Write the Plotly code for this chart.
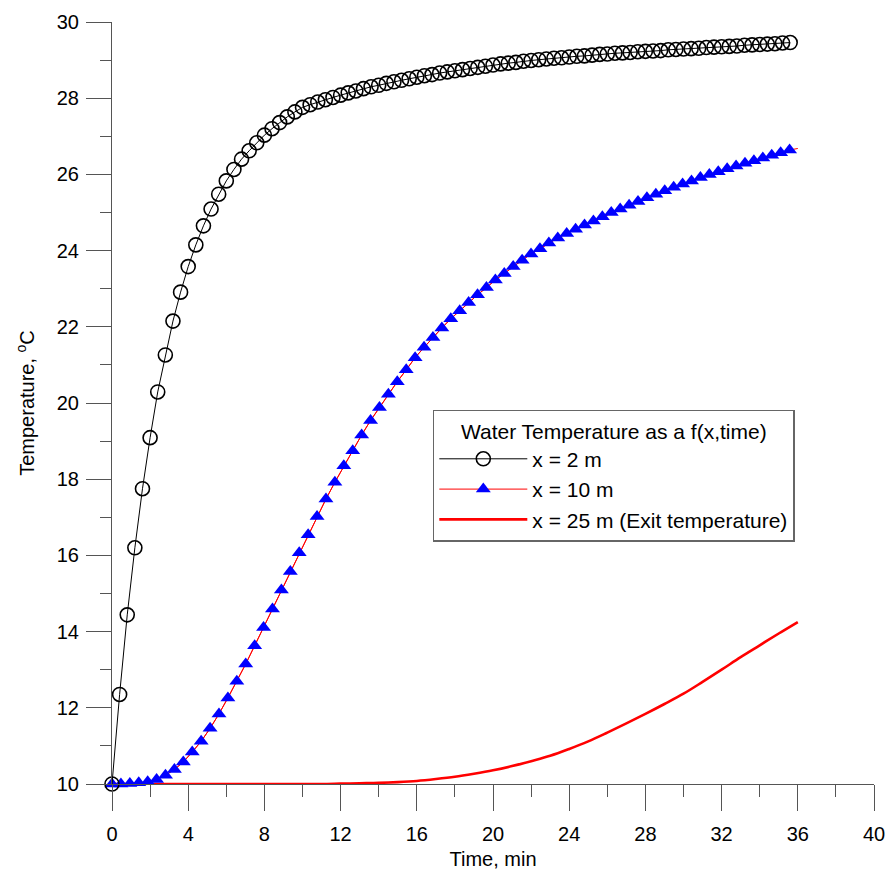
import numpy as np
import plotly.graph_objects as go

# Water temperature at x = 2 m, sampled every 0.4 min
t_x2 = np.round(np.arange(90) * 0.4, 2)
temp_x2 = [
    10.00, 12.35, 14.44, 16.20, 17.75, 19.09, 20.29, 21.26, 22.15, 22.91,
    23.58, 24.15, 24.65, 25.09, 25.48, 25.83, 26.13, 26.40, 26.62, 26.83,
    27.03, 27.20, 27.36, 27.51, 27.64, 27.76, 27.83, 27.90, 27.96, 28.02,
    28.08, 28.14, 28.19, 28.25, 28.30, 28.34, 28.39, 28.43, 28.47, 28.51,
    28.55, 28.59, 28.62, 28.66, 28.69, 28.72, 28.75, 28.78, 28.81, 28.84,
    28.87, 28.90, 28.92, 28.94, 28.97, 28.99, 29.01, 29.03, 29.05, 29.06,
    29.08, 29.10, 29.11, 29.13, 29.15, 29.16, 29.18, 29.19, 29.20, 29.22,
    29.23, 29.24, 29.25, 29.27, 29.28, 29.29, 29.30, 29.31, 29.33, 29.34,
    29.35, 29.36, 29.37, 29.39, 29.40, 29.41, 29.42, 29.43, 29.45, 29.46,
]

# Water temperature at x = 10 m, sampled every 0.468 min
t_x10 = np.round(np.arange(77) * 0.468, 3)
temp_x10 = [
    10.00, 10.00, 10.01, 10.03, 10.06, 10.12, 10.23, 10.38, 10.58, 10.84,
    11.12, 11.46, 11.84, 12.26, 12.70, 13.15, 13.63, 14.11, 14.59, 15.09,
    15.58, 16.07, 16.54, 17.02, 17.48, 17.92, 18.35, 18.75, 19.16, 19.54,
    19.88, 20.23, 20.56, 20.87, 21.19, 21.46, 21.72, 21.97, 22.21, 22.42,
    22.64, 22.84, 23.03, 23.23, 23.40, 23.58, 23.75, 23.91, 24.05, 24.20,
    24.33, 24.45, 24.56, 24.67, 24.78, 24.89, 25.00, 25.09, 25.19, 25.29,
    25.39, 25.48, 25.57, 25.66, 25.75, 25.83, 25.92, 26.00, 26.07, 26.15,
    26.22, 26.29, 26.36, 26.43, 26.50, 26.57, 26.64,
]
# the x = 10 m curve runs on to the end of the run
t_end = 36.0
temp_x10_end = 26.68

# Exit temperature at x = 25 m, every minute
t_x25 = list(range(0, 37))
temp_x25 = [
    10.00, 10.00, 10.00, 10.00, 10.00, 10.00, 10.00, 10.00, 10.00, 10.00,
    10.00, 10.00, 10.01, 10.02, 10.03, 10.05, 10.08, 10.13, 10.19, 10.27,
    10.36, 10.47, 10.60, 10.74, 10.92, 11.12, 11.35, 11.59, 11.84, 12.10,
    12.37, 12.68, 13.00, 13.33, 13.64, 13.95, 14.25,
]

FONT = "Arial, Liberation Sans, sans-serif"
AXIS_GREY = "#555555"

fig = go.Figure()

fig.add_trace(go.Scatter(
    x=t_x25, y=temp_x25, mode="lines", line_shape="spline",
    line=dict(color="#ff0000", width=2.6), cliponaxis=False,
    name="x = 25 m (Exit temperature)",
))

fig.add_trace(go.Scatter(
    x=list(t_x10) + [t_end], y=temp_x10 + [temp_x10_end], mode="lines",
    line=dict(color="#ff0000", width=1), showlegend=False, hoverinfo="skip",
    cliponaxis=False,
))
fig.add_trace(go.Scatter(
    x=t_x10, y=temp_x10, mode="lines+markers",
    line=dict(color="#ff0000", width=1),
    marker=dict(symbol="triangle-up", size=13, color="#0000ff",
                line=dict(width=0)),
    cliponaxis=False,
    name="x = 10 m",
))

fig.add_trace(go.Scatter(
    x=t_x2, y=temp_x2, mode="lines+markers",
    line=dict(color="black", width=1),
    marker=dict(symbol="circle-open", size=14, color="black",
                line=dict(width=1.6, color="black")),
    cliponaxis=False,
    name="x = 2 m",
))

fig.update_layout(
    width=886, height=877,
    margin=dict(l=112, r=12, t=22, b=93, autoexpand=False),
    paper_bgcolor="white", plot_bgcolor="white",
    font=dict(family=FONT, size=20, color="black"),
    showlegend=True,
    legend=dict(
        title=dict(text="Water Temperature as a f(x,time)", side="top center",
                   font=dict(size=21)),
        traceorder="reversed",
        x=0.421, y=0.491, xanchor="left", yanchor="top",
        bgcolor="white", bordercolor="#666666", borderwidth=1.5,
        font=dict(size=21), itemwidth=88,
    ),
)

fig.update_xaxes(
    range=[0, 40.0001], tickvals=list(range(0, 41, 4)),
    automargin=False,
    showline=True, linecolor=AXIS_GREY, linewidth=1.2,
    ticks="outside", ticklen=26, tickwidth=1.2, tickcolor=AXIS_GREY,
    minor=dict(dtick=2, tick0=0, ticks="outside", ticklen=12, tickwidth=1.2,
               tickcolor=AXIS_GREY),
    showgrid=False, zeroline=False,
    ticklabelstandoff=6, ticklabeloverflow="allow",
    title=dict(text="Time, min", standoff=7, font=dict(size=20)),
)
fig.update_yaxes(
    range=[10, 30], dtick=2, tick0=10,
    automargin=False,
    showline=True, linecolor=AXIS_GREY, linewidth=1.2,
    ticks="outside", ticklen=25, tickwidth=1.2, tickcolor=AXIS_GREY,
    minor=dict(dtick=1, ticks="outside", ticklen=11, tickwidth=1.2,
               tickcolor=AXIS_GREY),
    showgrid=False, zeroline=False,
    ticklabelstandoff=3, ticklabeloverflow="allow",
    title=dict(text="Temperature, <sup>o</sup>C", standoff=16,
               font=dict(size=20)),
)

fig.write_html("out.html")
